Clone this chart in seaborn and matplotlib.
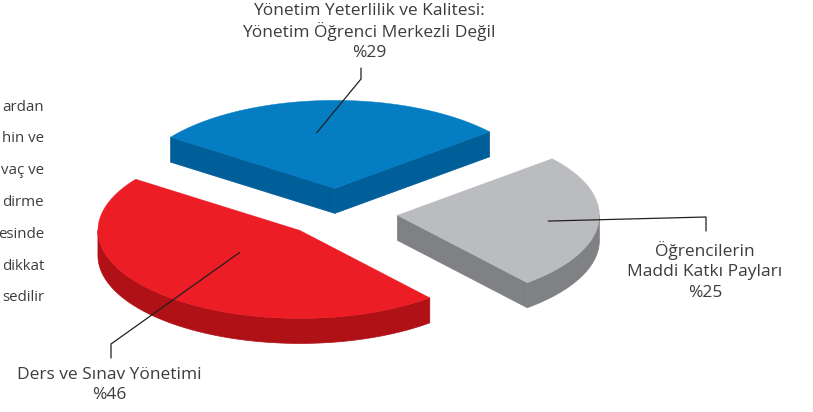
import numpy as np
import matplotlib
matplotlib.use("Agg")
import matplotlib.pyplot as plt
from matplotlib.patches import Polygon
import seaborn as sns

# ---- data ----
categories = ["Öğrencilerin\nMaddi Katkı Payları",
              "Yönetim Yeterlilik ve Kalitesi:\nYönetim Öğrenci Merkezli Değil",
              "Ders ve Sınav Yönetimi"]
values = [25, 29, 46]
pct_labels = ["%25", "%29", "%46"]
side_text = ["ardan", "hin ve", "vaç ve", "dirme", "esinde", "dikkat", "sedilir"]

# ---- style ----
sns.set_theme(style="white")
plt.rcParams['font.family'] = ['Open Sans', 'DejaVu Sans']
top_colors = ["#BBBCBF", "#047DC3", "#EC1D25"]
side_colors = ["#808184", "#005E98", "#AF1117"]
text_color = "#3C3C3C"

W, H = 813, 412
fig = plt.figure(figsize=(W / 100, H / 100), dpi=100)
ax = fig.add_axes([0, 0, 1, 1])
ax.set_xlim(0, W)
ax.set_ylim(H, 0)
ax.axis("off")

# pie geometry (screen units)
CX, CY = 337, 213
R, r = 202, 88
DEPTH = 25
START = -50.0
explode = [0.30, 0.28, 0.27]
# leader inner point (angle, radius fraction) & elbow/label placement
leader_inner = [(-5, 0.75), (98, 0.64), (220, 0.39)]
elbow = [((706, 217), (706, 231)), ((361, 79), (361, 68)), ((111, 344), (111, 358))]
label_pos = [(705, 251, 21), (369, 11, 21), (109, 375, 20)]

total = float(sum(values))
angles = []
a = START
for v in values:
    span = 360.0 * v / total
    angles.append((a, a + span))
    a += span

apexes = []
for (a0, a1), e in zip(angles, explode):
    m = np.radians((a0 + a1) / 2)
    apexes.append((CX + e * R * np.cos(m), CY - e * r * np.sin(m)))

def pt(apex, deg):
    t = np.radians(deg)
    return np.array([apex[0] + R * np.cos(t), apex[1] - r * np.sin(t)])

down = np.array([0, DEPTH])
draw_order = [1, 0, 2]
for i in draw_order:
    a0, a1 = angles[i]
    apex = np.array(apexes[i])
    kw = dict(closed=True, facecolor=side_colors[i], edgecolor=side_colors[i],
              linewidth=0.5, joinstyle="miter")
    # radial faces (only those facing the viewer)
    if np.sin(np.radians(a0 - 90)) < 0:
        p = pt(apex, a0)
        ax.add_patch(Polygon([apex, p, p + down, apex + down], **kw))
    if np.sin(np.radians(a1 + 90)) < 0:
        p = pt(apex, a1)
        ax.add_patch(Polygon([apex, p, p + down, apex + down], **kw))
    # outer wall: front part of the arc
    for (s0, s1) in [(max(a0, 180.0), min(a1, 360.0)), (max(a0, -180.0), min(a1, 0.0))]:
        if s1 > s0:
            th = np.linspace(s0, s1, 200)
            top = np.array([pt(apex, d) for d in th])
            wall = np.vstack([top, (top + down)[::-1]])
            ax.add_patch(Polygon(wall, **kw))
    # top face
    th = np.linspace(a0, a1, 300)
    poly = np.vstack([[apex], [pt(apex, d) for d in th]])
    ax.add_patch(Polygon(poly, closed=True, facecolor=top_colors[i],
                         edgecolor=top_colors[i], linewidth=0.3))

# leader lines and labels
for i in range(3):
    ang, f = leader_inner[i]
    t = np.radians(ang)
    p0 = (apexes[i][0] + f * R * np.cos(t), apexes[i][1] - f * r * np.sin(t))
    (ex, ey), (vx, vy) = elbow[i]
    ax.plot([p0[0], ex, vx], [p0[1], ey, vy], color="#231F20", lw=0.9,
            solid_joinstyle="miter")
    lx, ly, step = label_pos[i]
    lines = categories[i].split("\n") + [pct_labels[i]]
    for k, s in enumerate(lines):
        ax.text(lx, ly + k * step, s, ha="center", va="center",
                fontsize=12.5, color=text_color)

for k, s in enumerate(side_text):
    ax.text(44, 107 + k * 31.8, s, ha="right", va="center",
            fontsize=10.8, color=text_color)

fig.savefig("out.png", dpi=100)
